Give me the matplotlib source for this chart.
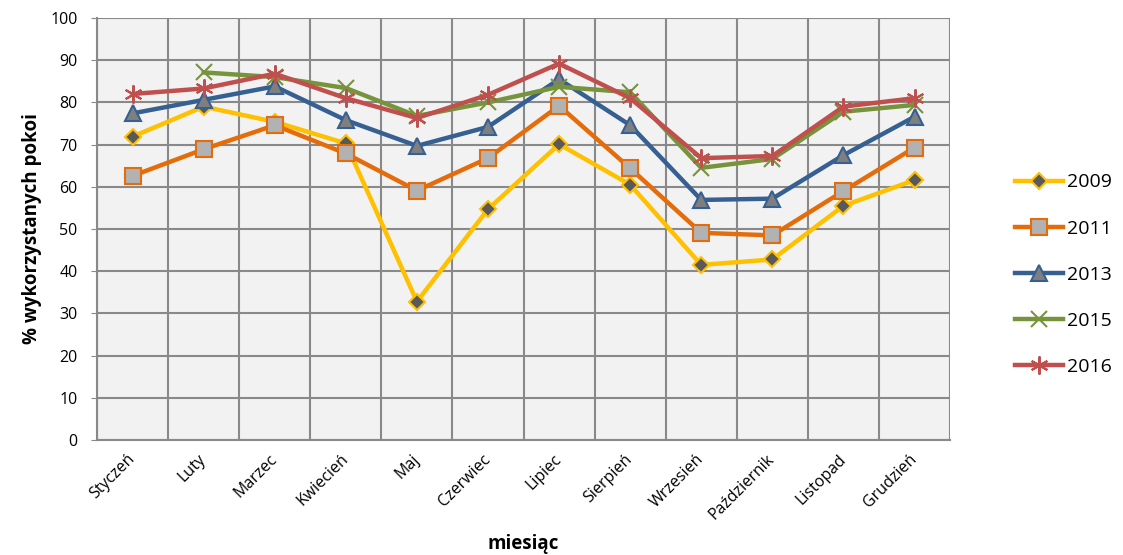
import numpy as np
import matplotlib.pyplot as plt
import matplotlib.transforms as mtrans
from matplotlib.ticker import MultipleLocator, FixedLocator

months = ['Styczeń', 'Luty', 'Marzec', 'Kwiecień', 'Maj', 'Czerwiec', 'Lipiec',
          'Sierpień', 'Wrzesień', 'Październik', 'Listopad', 'Grudzień']

y2009 = [71.9, 79.0, 75.4, 70.3, 32.8, 54.7, 70.1, 60.5, 41.5, 42.8, 55.5, 61.6]
y2011 = [62.6, 68.9, 74.6, 67.9, 59.1, 66.8, 79.2, 64.4, 49.1, 48.5, 59.0, 69.3]
y2013 = [77.4, 80.6, 83.8, 75.8, 69.7, 74.2, 85.5, 74.6, 56.9, 57.2, 67.5, 76.6]
y2015 = [np.nan, 87.1, 86.0, 83.4, 76.8, 80.0, 83.7, 82.4, 64.5, 66.6, 77.8, 79.4]
y2016 = [82.0, 83.3, 86.8, 81.0, 76.3, 81.8, 89.2, 81.0, 66.8, 67.3, 79.0, 81.0]

plt.rcParams['font.family'] = ['Open Sans', 'DejaVu Sans']

fig = plt.figure(figsize=(11.23, 5.55), dpi=100)
ax = fig.add_axes([0.0864, 0.207, 0.7596, 0.7606])
ax.set_facecolor('#F2F2F2')

x = np.arange(len(months))
ax.plot(x, y2009, color='#FFC000', lw=3.2, marker='D', ms=8.5, mfc='#595959',
        mec='#FFC000', mew=1.5, label='2009', zorder=3)
ax.plot(x, y2011, color='#E46C0A', lw=3.2, marker='s', ms=11, mfc='#B2B2B2',
        mec='#E46C0A', mew=1.5, label='2011', zorder=3)
ax.plot(x, y2013, color='#376092', lw=3.2, marker='^', ms=12, mfc='#7F7F7F',
        mec='#376092', mew=1.5, label='2013', zorder=3)
ax.plot(x, y2015, color='#77933C', lw=3.2, marker='x', ms=11, mec='#77933C',
        mew=1.5, label='2015', zorder=3)
ax.plot(x, y2016, color='#C0504D', lw=3.2, marker=(6, 2, 0), ms=13, mec='#C0504D',
        mew=1.5, label='2016', zorder=3)

ax.set_xlim(-0.5, 11.5)
ax.set_ylim(0, 100)
ax.yaxis.set_major_locator(MultipleLocator(10))
ax.set_xticks(x)
ax.set_xticklabels(months, rotation=45, ha='right', va='center',
                   rotation_mode='anchor', fontsize=11.5)
shift = mtrans.ScaledTranslation(8 / 100, 0, fig.dpi_scale_trans)
for lab in ax.get_xticklabels():
    lab.set_transform(lab.get_transform() + shift)
ax.xaxis.set_minor_locator(FixedLocator(np.arange(-0.5, 12, 1)))
ax.tick_params(axis='x', which='major', length=0, pad=12)
ax.tick_params(axis='x', which='minor', length=0)
ax.tick_params(axis='y', labelsize=11.5, length=4, color='#898989', pad=10)
ax.grid(True, axis='y', which='major', color='#898989', lw=1.5)
ax.grid(True, axis='x', which='minor', color='#898989', lw=1.5)
ax.set_axisbelow(True)
for side in ['top', 'right']:
    ax.spines[side].set_visible(False)
for side in ['left', 'bottom']:
    ax.spines[side].set_color('#898989')
    ax.spines[side].set_linewidth(1.5)

ax.set_xlabel('miesiąc', fontsize=13.5, fontweight='bold', labelpad=8)
ax.set_ylabel('% wykorzystanych pokoi', fontsize=13.5, fontweight='bold', labelpad=6)

fig.legend(loc='center left', bbox_to_anchor=(0.888, 0.505), frameon=False,
           fontsize=14, handlelength=2.5, handletextpad=0.2, labelspacing=1.45)

fig.savefig('out.png', dpi=100)
